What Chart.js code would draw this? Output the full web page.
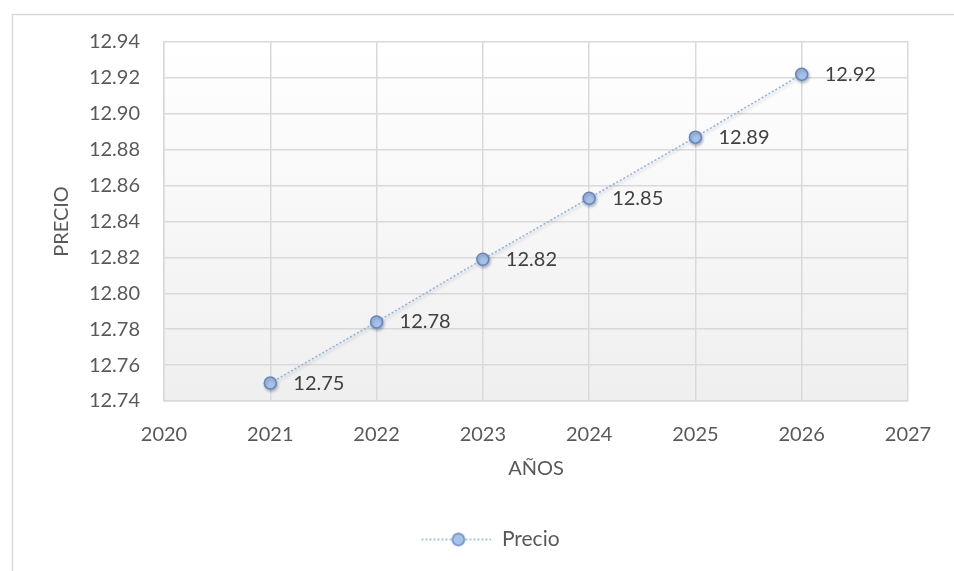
<!DOCTYPE html>
<html>
<head>
<meta charset="utf-8">
<script src="https://cdn.jsdelivr.net/npm/chart.js@4"></script>
<style>
  html, body { margin: 0; padding: 0; background: #fff; }
</style>
</head>
<body>
<canvas id="chart" width="954" height="571"></canvas>
<script>
const years = [2021, 2022, 2023, 2024, 2025, 2026];
const precio = [12.750, 12.784, 12.819, 12.853, 12.887, 12.922];
const xTicks = [2020, 2021, 2022, 2023, 2024, 2025, 2026, 2027];
const yTicks = [12.74, 12.76, 12.78, 12.80, 12.82, 12.84, 12.86, 12.88, 12.90, 12.92, 12.94];

const FONT = 'Lato';
const TEXT = '#595959';
const GRID = '#d9d9d9';

// line + marker sample for the legend (blank strip on the left nudges it right)
function legendIcon() {
  const lead = 27;
  const c = document.createElement('canvas');
  c.width = lead + 70;
  c.height = 18;
  const g = c.getContext('2d');
  g.strokeStyle = '#8db3e2';
  g.lineWidth = 1.5;
  g.setLineDash([2, 2]);
  g.beginPath();
  g.moveTo(lead, 9);
  g.lineTo(lead + 70, 9);
  g.stroke();
  g.setLineDash([]);
  g.beginPath();
  g.arc(lead + 37, 9, 6, 0, Math.PI * 2);
  g.fillStyle = '#a7c1ea';
  g.fill();
  g.strokeStyle = '#5f86c4';
  g.stroke();
  return c;
}

const background = {
  id: 'background',
  beforeDraw(chart) {
    const {ctx, chartArea: a} = chart;
    ctx.save();
    ctx.fillStyle = '#fff';
    ctx.fillRect(0, 0, chart.width, chart.height);
    // outer frame
    ctx.strokeStyle = GRID;
    ctx.lineWidth = 1.5;
    ctx.beginPath();
    ctx.moveTo(12.5, chart.height);
    ctx.lineTo(12.5, 14.5);
    ctx.lineTo(chart.width, 14.5);
    ctx.stroke();
    // plot area gradient
    const grad = ctx.createLinearGradient(0, a.top, 0, a.bottom);
    grad.addColorStop(0, '#ffffff');
    grad.addColorStop(1, '#efefef');
    ctx.fillStyle = grad;
    ctx.fillRect(a.left, a.top, a.right - a.left, a.bottom - a.top);
    ctx.restore();
  }
};

const shadow = {
  id: 'shadow',
  beforeDatasetDraw(chart) {
    const ctx = chart.ctx;
    ctx.save();
    ctx.shadowColor = 'rgba(0,0,0,0.25)';
    ctx.shadowBlur = 3;
    ctx.shadowOffsetX = 1;
    ctx.shadowOffsetY = 2;
  },
  afterDatasetDraw(chart) {
    chart.ctx.restore();
  }
};

const valueLabels = {
  id: 'valueLabels',
  afterDatasetsDraw(chart) {
    const ctx = chart.ctx;
    const meta = chart.getDatasetMeta(0);
    ctx.save();
    ctx.font = '20px ' + FONT;
    ctx.fillStyle = '#404040';
    ctx.textAlign = 'left';
    ctx.textBaseline = 'middle';
    meta.data.forEach((pt, i) => {
      ctx.fillText(precio[i].toFixed(2), pt.x + 23, pt.y);
    });
    ctx.restore();
  }
};

new Chart(document.getElementById('chart'), {
  type: 'line',
  data: {
    datasets: [{
      label: 'Precio',
      data: years.map((y, i) => ({x: y, y: precio[i]})),
      borderColor: '#8db3e2',
      borderWidth: 1.5,
      borderDash: [2, 2],
      pointRadius: 6,
      pointBackgroundColor: '#a7c1ea',
      pointBorderColor: '#5f86c4',
      pointBorderWidth: 1.5,
      fill: false,
      tension: 0
    }]
  },
  options: {
    responsive: false,
    animation: false,
    layout: { padding: { left: 46, right: 46, top: 42, bottom: 11 } },
    plugins: {
      tooltip: { enabled: false },
      legend: {
        position: 'bottom',
        labels: {
          usePointStyle: true,
          pointStyleWidth: 97,
          padding: 10,
          color: TEXT,
          font: { family: FONT, size: 21 },
          generateLabels: () => [{
            text: 'Precio',
            pointStyle: legendIcon(),
            fontColor: TEXT,
            lineWidth: 0,
            datasetIndex: 0
          }]
        }
      }
    },
    scales: {
      x: {
        type: 'linear',
        min: 2020,
        max: 2027,
        afterBuildTicks: s => { s.ticks = xTicks.map(v => ({value: v})); },
        afterFit: s => { s.height = 118; },
        grid: { color: GRID, lineWidth: 1.5, drawTicks: false },
        border: { color: GRID, width: 1.5 },
        ticks: { padding: 22, color: TEXT, font: { family: FONT, size: 20 }, callback: v => String(v) },
        title: { display: true, text: 'AÑOS', color: TEXT, font: { family: FONT, size: 20 }, padding: { top: 4, bottom: 38 } }
      },
      y: {
        min: 12.74,
        max: 12.94,
        afterBuildTicks: s => { s.ticks = yTicks.map(v => ({value: v})); },
        afterFit: s => { s.width = 118; },
        grid: { color: GRID, lineWidth: 1.5, drawTicks: false },
        border: { color: GRID, width: 1.5 },
        ticks: { padding: 24, color: TEXT, font: { family: FONT, size: 20 }, callback: v => v.toFixed(2) },
        title: { display: true, text: 'PRECIO', color: TEXT, font: { family: FONT, size: 20 }, padding: { top: 4, bottom: 4 } }
      }
    }
  },
  plugins: [background, shadow, valueLabels]
});
</script>
</body>
</html>
